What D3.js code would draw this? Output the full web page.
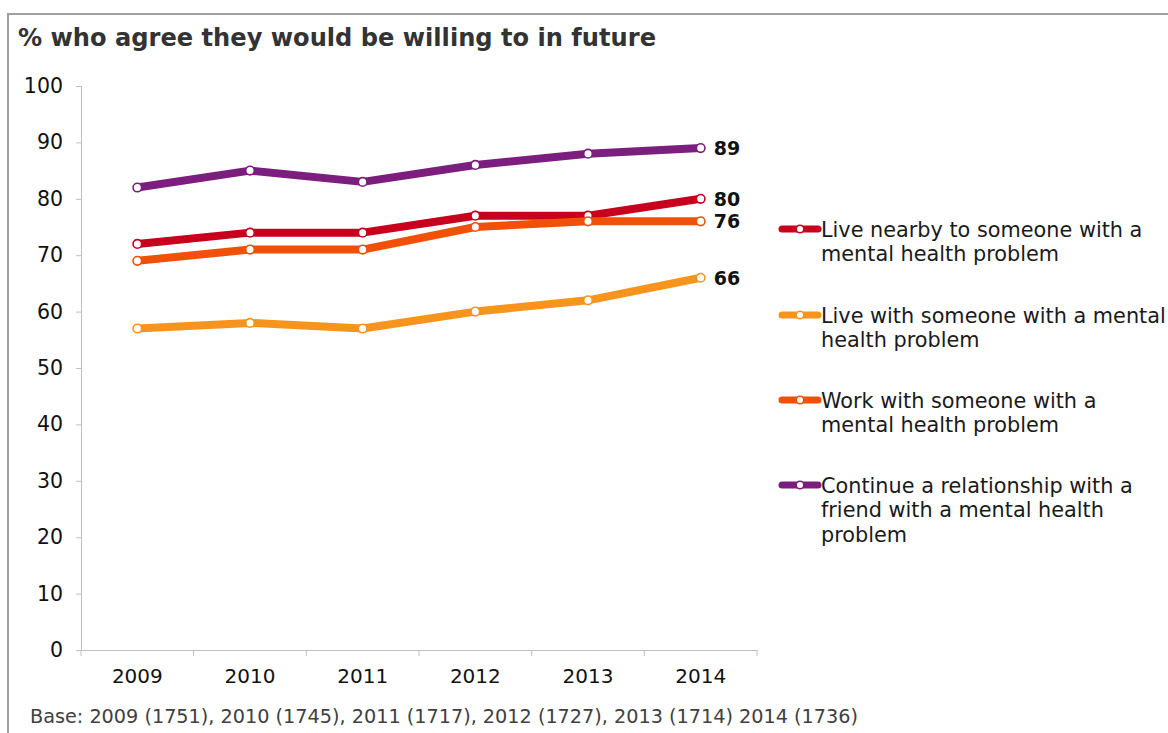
<!DOCTYPE html>
<html><head><meta charset="utf-8">
<script src="https://cdn.jsdelivr.net/npm/d3@7"></script>
<style>
html,body{margin:0;padding:0;background:#fff;}
svg{display:block;font-family:"DejaVu Sans",Verdana,sans-serif;}
</style></head>
<body>
<svg id="chart" width="1168" height="733"></svg>
<script>
const years = ["2009","2010","2011","2012","2013","2014"];
const liveNearby = [72,74,74,77,77,80];
const liveWith = [57,58,57,60,62,66];
const workWith = [69,71,71,75,76,76];
const continueRel = [82,85,83,86,88,89];
const seriesNames = [
  ["Live nearby to someone with a","mental health problem"],
  ["Live with someone with a mental","health problem"],
  ["Work with someone with a","mental health problem"],
  ["Continue a relationship with a","friend with a mental health","problem"]
];
const seriesColors = ["#c8001e","#f7941e","#f05008","#7b1e7e"];
const yTicks = [0,10,20,30,40,50,60,70,80,90,100];
const titleText = "% who agree they would be willing to in future";
const baseText = "Base: 2009 (1751), 2010 (1745), 2011 (1717), 2012 (1727), 2013 (1714) 2014 (1736)";

const series = [liveNearby, liveWith, workWith, continueRel];

const svg = d3.select("#chart");

// frame
svg.append("path").attr("d","M8,733 V14 H1168").attr("fill","none").attr("stroke","#a0a0a0").attr("stroke-width",2);

svg.append("text").attr("x",18).attr("y",46).attr("font-size",24).attr("font-weight","bold")
  .attr("fill","#333").attr("textLength",638).attr("lengthAdjust","spacingAndGlyphs").text(titleText);

const x = d3.scaleBand().domain(years).range([81,757]);
const y = d3.scaleLinear().domain([0,100]).range([650,86]);

// y axis
const yAxis = d3.axisLeft(y).tickValues(yTicks).tickSize(5).tickPadding(13);
const gy = svg.append("g").attr("transform","translate(81,0)").call(yAxis);
gy.select(".domain").attr("stroke","#bfbfbf");
gy.selectAll(".tick line").attr("stroke","#bfbfbf");
gy.selectAll(".tick text").attr("font-size",20.5).attr("fill","#111").attr("font-family","DejaVu Sans, sans-serif");

// x axis
const xAxis = d3.axisBottom(x).tickSize(0).tickPadding(19);
const gx = svg.append("g").attr("transform","translate(0,650)").call(xAxis);
gx.select(".domain").attr("stroke","#bfbfbf");
gx.selectAll(".tick text").attr("font-size",20).attr("fill","#111").attr("font-family","DejaVu Sans, sans-serif");
const bounds = years.map(d=>x(d)).concat([x(years[years.length-1])+x.bandwidth()]);
gx.selectAll(".bt").data(bounds).enter().append("line")
  .attr("x1",d=>d).attr("x2",d=>d).attr("y1",0).attr("y2",6).attr("stroke","#bfbfbf");

const cx = d => x(d) + x.bandwidth()/2;
const line = d3.line().x((v,i)=>cx(years[i])).y(v=>y(v));

const order = [1,0,2,3];
order.forEach(si=>{
  const vals = series[si];
  const g = svg.append("g");
  g.append("path").attr("d",line(vals)).attr("fill","none").attr("stroke",seriesColors[si])
    .attr("stroke-width",8).attr("stroke-linejoin","round").attr("stroke-linecap","round");
  g.selectAll("circle").data(vals).enter().append("circle")
    .attr("cx",(v,i)=>cx(years[i])).attr("cy",v=>y(v)).attr("r",4.3)
    .attr("fill","#fff").attr("stroke",seriesColors[si]).attr("stroke-width",1.6);
  const last = vals[vals.length-1];
  g.append("text").attr("x",cx(years[years.length-1])+13).attr("y",y(last)).attr("dy","0.36em")
    .attr("font-size",19).attr("font-weight","bold").attr("fill","#111").text(last);
});

// legend
const legTop = [229,315,400,485];
seriesNames.forEach((lines,si)=>{
  const g = svg.append("g").attr("transform",`translate(0,${legTop[si]})`);
  g.append("line").attr("x1",782).attr("x2",818).attr("y1",0).attr("y2",0)
    .attr("stroke",seriesColors[si]).attr("stroke-width",7).attr("stroke-linecap","round");
  g.append("circle").attr("cx",800).attr("cy",0).attr("r",3.8).attr("fill","#fff")
    .attr("stroke",seriesColors[si]).attr("stroke-width",1.5);
  lines.forEach((t,li)=>{
    g.append("text").attr("x",821).attr("y",li*25).attr("dy","0.36em").attr("font-size",20.8)
      .attr("fill","#1a1a1a").text(t);
  });
});

svg.append("text").attr("x",30).attr("y",716).attr("dy","0.36em").attr("font-size",19.2)
  .attr("fill","#404040").attr("textLength",828).attr("lengthAdjust","spacingAndGlyphs").text(baseText);
</script>
</body></html>
